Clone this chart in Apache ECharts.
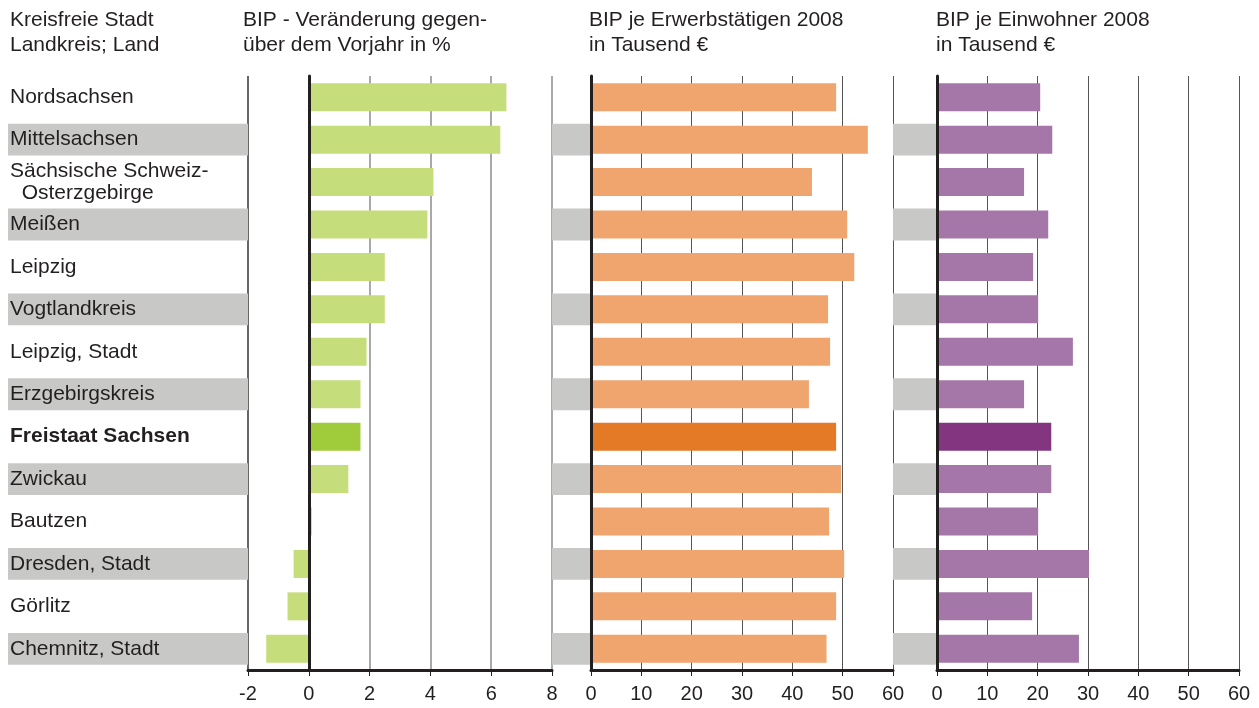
<!DOCTYPE html>
<html>
<head>
<meta charset="UTF-8">
<title>BIP Sachsen 2008</title>
<script src="https://cdn.jsdelivr.net/npm/echarts@6/dist/echarts.min.js"></script>
<style>
  html, body { margin: 0; padding: 0; background: #fff; }
</style>
</head>
<body>
<div id="chart" style="width:1259px;height:708px;"></div>

<script>
// Daten
var regions = ['Nordsachsen', 'Mittelsachsen', 'Sächsische Schweiz-\n  Osterzgebirge', 'Meißen', 'Leipzig',
  'Vogtlandkreis', 'Leipzig, Stadt', 'Erzgebirgskreis', 'Freistaat Sachsen', 'Zwickau', 'Bautzen',
  'Dresden, Stadt', 'Görlitz', 'Chemnitz, Stadt'];
var change = [6.5, 6.3, 4.1, 3.9, 2.5, 2.5, 1.9, 1.7, 1.7, 1.3, 0.1, -0.5, -0.7, -1.4];
var perWorker = [48.7, 55.0, 43.9, 50.9, 52.3, 47.1, 47.5, 43.3, 48.7, 49.7, 47.3, 50.3, 48.7, 46.8];
var perCapita = [20.5, 22.9, 17.3, 22.1, 19.1, 20.1, 27.0, 17.3, 22.7, 22.7, 20.1, 30.2, 18.9, 28.2];
var ticksChange = [-2, 0, 2, 4, 6, 8];
var ticksEuro = [0, 10, 20, 30, 40, 50, 60];
var titles = ['Kreisfreie Stadt\nLandkreis; Land', 'BIP - Veränderung gegen-\nüber dem Vorjahr in %',
  'BIP je Erwerbstätigen 2008\nin Tausend €', 'BIP je Einwohner 2008\nin Tausend €'];

var land = 'Freistaat Sachsen';
var hi = regions.indexOf(land);
var ink = '#231f20';
var font = 'Liberation Sans, Arial, sans-serif';

var gridTop = 76, gridBottom = 38;

// graue Streifen (jede zweite Zeile)
var stripe = regions.map(function (r, i) { return i % 2 ? 1 : '-'; });

function catAxis(grid, extra) {
  var a = {
    type: 'category', gridIndex: grid, data: regions, inverse: true,
    axisTick: { show: false }, axisLabel: { show: false },
    axisLine: { show: false }, splitLine: { show: false }
  };
  for (var k in extra) a[k] = extra[k];
  return a;
}

function valAxis(grid, ticks, splitColors, splitWidth) {
  return {
    type: 'value', gridIndex: grid,
    min: ticks[0], max: ticks[ticks.length - 1], interval: ticks[1] - ticks[0],
    axisLine: { show: true, onZero: false, lineStyle: { color: ink, width: 3 } },
    axisTick: { show: true, length: 6, lineStyle: { color: ink, width: 1 } },
    axisLabel: { color: ink, fontSize: 20, fontFamily: font, margin: 14 },
    splitLine: { show: true, lineStyle: { color: splitColors, width: splitWidth } }
  };
}

function hiddenAxis(grid) {
  return { type: 'value', gridIndex: grid, min: 0, max: 1, show: false, splitLine: { show: false } };
}

var zeroLine = { show: true, onZero: true, lineStyle: { color: ink, width: 3 } };

function bars(x, y, vals, light, dark) {
  return {
    type: 'bar', xAxisIndex: x, yAxisIndex: y, data: vals,
    barCategoryGap: '34%', silent: true,
    itemStyle: { color: function (p) { return p.dataIndex === hi ? dark : light; } }
  };
}

function greyBand(x, y) {
  return {
    type: 'bar', xAxisIndex: x, yAxisIndex: y, data: stripe,
    barWidth: '75%', silent: true, itemStyle: { color: '#c8c8c6' }
  };
}

var chart = echarts.init(document.getElementById('chart'));

var option = {
  animation: false,
  title: [
    { left: 10, top: 8, text: titles[0] },
    { left: 243, top: 8, text: titles[1] },
    { left: 589, top: 8, text: titles[2] },
    { left: 936, top: 8, text: titles[3] }
  ].map(function (t) {
    t.padding = 0;
    t.textStyle = { fontSize: 21, fontWeight: 'normal', color: ink, fontFamily: font, lineHeight: 25 };
    return t;
  }),
  grid: [
    { left: 248, width: 304, top: gridTop, bottom: gridBottom },   // Veränderung
    { left: 591, width: 302, top: gridTop, bottom: gridBottom },   // je Erwerbstätigen
    { left: 937, width: 302, top: gridTop, bottom: gridBottom },   // je Einwohner
    { left: 8, width: 240, top: gridTop, bottom: gridBottom },     // Beschriftung
    { left: 552, width: 39, top: gridTop, bottom: gridBottom },
    { left: 893, width: 44, top: gridTop, bottom: gridBottom }
  ],
  xAxis: [
    valAxis(0, ticksChange, ['#333', '#8c8c8c', '#8c8c8c', '#8c8c8c', '#8c8c8c', '#8c8c8c'], 1.5),
    valAxis(1, ticksEuro, '#555', 1),
    valAxis(2, ticksEuro, '#555', 1),
    hiddenAxis(3), hiddenAxis(4), hiddenAxis(5)
  ],
  yAxis: [
    catAxis(0, { axisLine: zeroLine, z: 5 }),
    catAxis(1, { axisLine: zeroLine, z: 5 }),
    catAxis(2, { axisLine: zeroLine, z: 5 }),
    catAxis(3, {
      z: 10,
      axisLabel: {
        show: true, inside: true, margin: 2, align: 'left',
        color: ink, fontSize: 21, fontFamily: font, lineHeight: 22,
        formatter: function (v) { return v === land ? '{b|' + v + '}' : v; },
        rich: { b: { fontWeight: 'bold', fontSize: 21, color: ink, fontFamily: font } }
      }
    }),
    catAxis(4), catAxis(5)
  ],
  series: [
    greyBand(3, 3), greyBand(4, 4), greyBand(5, 5),
    bars(0, 0, change, '#c6dd7c', '#a0cb3a'),
    bars(1, 1, perWorker, '#f0a56e', '#e57a26'),
    bars(2, 2, perCapita, '#a577a8', '#833580')
  ]
};

chart.setOption(option);
</script>
</body>
</html>
